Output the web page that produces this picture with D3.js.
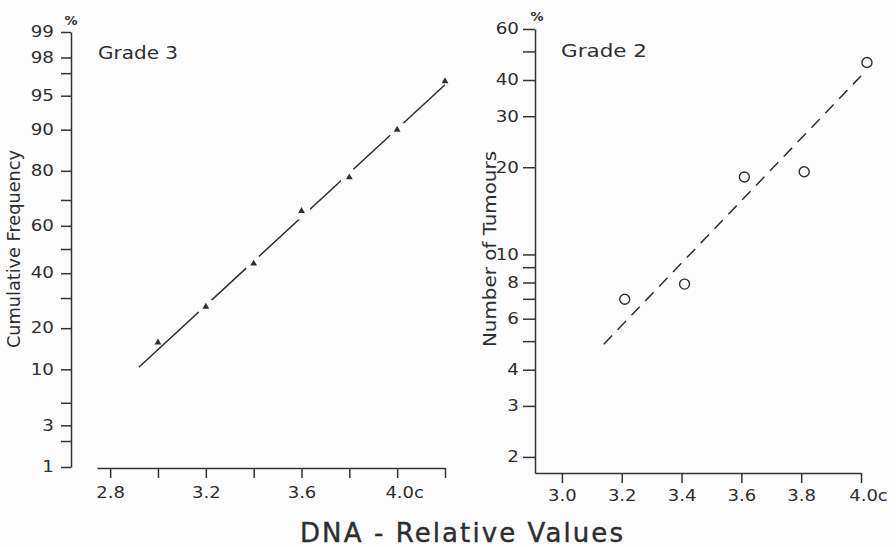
<!DOCTYPE html>
<html>
<head>
<meta charset="utf-8">
<script src="https://cdn.jsdelivr.net/npm/d3@7"></script>
<style>
  body { margin: 0; background: #fcfcfc; }
  svg { display: block; background: #fcfcfc; }
  text { font-family: "DejaVu Sans", sans-serif; fill: #2e2e2e; }
  .axis path, .axis line { stroke: #333; stroke-width: 1.5; }
  .axis text { font-size: 15px; fill: #2e2e2e; font-family: "DejaVu Sans", sans-serif; }
</style>
</head>
<body>
<svg width="896" height="547"></svg>
<script>
"use strict";

// Grade 3 (probability paper, left panel)
const grade3X = [3.0, 3.2, 3.4, 3.6, 3.8, 4.0, 4.2];
const grade3Y = [16, 27, 44, 66, 78, 90, 96.4];
const grade3FitX = [2.92, 4.2];
const grade3FitY = [10.4, 96.1];

// Grade 2 (log scale, right panel)
const grade2X = [3.21, 3.41, 3.61, 3.81, 4.02];
const grade2Y = [7.0, 7.9, 18.5, 19.3, 46];
const grade2FitX = [3.14, 4.0];
const grade2FitY = [4.9, 41.3];

// tick values / labels
const probMajor = [1, 3, 10, 20, 40, 60, 80, 90, 95, 98, 99];
const probMinor = [2, 5, 30, 50, 70, 97];
const leftXTicks = [2.8, 3.0, 3.2, 3.4, 3.6, 3.8, 4.0, 4.2];
const leftXLabels = ["2.8", "", "3.2", "", "3.6", "", "4.0c", ""];
const countMajor = [2, 3, 4, 6, 8, 10, 20, 30, 40, 60];
const countMinor = [5, 7, 9, 50];
const rightXTicks = [3.0, 3.2, 3.4, 3.6, 3.8, 4.0];
const rightXLabels = ["3.0", "3.2", "3.4", "3.6", "3.8", "4.0c"];

const svg = d3.select("svg");
const ink = "#2e2e2e";
const bg = "#fcfcfc";

// the scanned lettering is a wide face: stretch glyphs sideways
const stretch = (sel, k) =>
  sel.each(function() {
    const w = this.getComputedTextLength();
    if (w > 0) {
      d3.select(this)
        .attr("textLength", w * k)
        .attr("lengthAdjust", "spacingAndGlyphs");
    }
  });

// inverse normal cdf (Acklam)
const probit = p => {
  const a = [-3.969683028665376e1, 2.209460984245205e2, -2.759285104469687e2, 1.38357751867269e2, -3.066479806614716e1, 2.506628277459239];
  const b = [-5.447609879822406e1, 1.615858368580409e2, -1.556989798598866e2, 6.680131188771972e1, -1.328068155288572e1];
  const c = [-7.784894002430293e-3, -3.223964580411365e-1, -2.400758277161838, -2.549732539343734, 4.374664141464968, 2.938163982698783];
  const d = [7.784695709041462e-3, 3.224671290700398e-1, 2.445134137142996, 3.754408661907416];
  const pl = 0.02425;
  let q, r;
  if (p < pl) {
    q = Math.sqrt(-2 * Math.log(p));
    return (((((c[0] * q + c[1]) * q + c[2]) * q + c[3]) * q + c[4]) * q + c[5]) / ((((d[0] * q + d[1]) * q + d[2]) * q + d[3]) * q + 1);
  }
  if (p > 1 - pl) {
    q = Math.sqrt(-2 * Math.log(1 - p));
    return -(((((c[0] * q + c[1]) * q + c[2]) * q + c[3]) * q + c[4]) * q + c[5]) / ((((d[0] * q + d[1]) * q + d[2]) * q + d[3]) * q + 1);
  }
  q = p - 0.5;
  r = q * q;
  return (((((a[0] * r + a[1]) * r + a[2]) * r + a[3]) * r + a[4]) * r + a[5]) * q / (((((b[0] * r + b[1]) * r + b[2]) * r + b[3]) * r + b[4]) * r + 1);
};

// probability scale usable by d3.axis
const probScale = (lo, hi, range) => {
  const lin = d3.scaleLinear().domain([probit(lo / 100), probit(hi / 100)]).range(range);
  const s = p => lin(probit(p / 100));
  s.copy = () => s;
  s.range = () => lin.range();
  s.domain = () => [lo, hi];
  return s;
};

/* ---------- left panel: Grade 3 ---------- */
const yL = probScale(1, 99, [467, 32]);
const xL = d3.scaleLinear().domain([2.745, 4.2]).range([97, 445]);

const yAxisL = svg.append("g")
  .attr("class", "axis")
  .attr("transform", "translate(71,0)")
  .call(d3.axisLeft(yL).tickValues(probMajor).tickSize(10).tickSizeOuter(0).tickPadding(7).tickFormat(d3.format("d")));

stretch(yAxisL.selectAll("text"), 1.22);

yAxisL.selectAll(".minor")
  .data(probMinor)
  .enter()
  .append("line")
  .attr("class", "minor")
  .attr("x1", -10)
  .attr("x2", 0)
  .attr("y1", d => yL(d))
  .attr("y2", d => yL(d));

const xAxisL = svg.append("g")
  .attr("class", "axis")
  .attr("transform", "translate(0,468)")
  .call(d3.axisBottom(xL).tickValues(leftXTicks).tickSize(10).tickSizeOuter(0).tickPadding(9)
    .tickFormat((d, i) => leftXLabels[i]));

stretch(xAxisL.selectAll("text"), 1.2);
xAxisL.selectAll("text")
  .attr("dx", (d, i) => (leftXLabels[i] === "4.0c" ? 7 : 0));

svg.append("text")
  .attr("x", 71)
  .attr("y", 25)
  .attr("text-anchor", "middle")
  .style("font-size", "13px")
  .style("font-weight", "bold")
  .text("%");

svg.append("text")
  .attr("x", 98)
  .attr("y", 59)
  .style("font-size", "17px")
  .attr("textLength", 80)
  .attr("lengthAdjust", "spacingAndGlyphs")
  .text("Grade 3");

svg.append("text")
  .attr("transform", "rotate(-90)")
  .attr("x", -249)
  .attr("y", 20)
  .attr("text-anchor", "middle")
  .style("font-size", "17px")
  .attr("textLength", 198)
  .attr("lengthAdjust", "spacingAndGlyphs")
  .text("Cumulative Frequency");

const fitL = d3.line()
  .x(d => xL(d[0]))
  .y(d => yL(d[1]));

svg.append("path")
  .datum(d3.zip(grade3FitX, grade3FitY))
  .attr("d", fitL)
  .attr("fill", "none")
  .attr("stroke", ink)
  .attr("stroke-width", 1.5);

const pts3 = d3.zip(grade3X, grade3Y);

// small breaks in the fitted line at each point
svg.selectAll(".gap3")
  .data(pts3.slice(1, -1))
  .enter()
  .append("circle")
  .attr("class", "gap3")
  .attr("cx", d => xL(d[0]))
  .attr("cy", d => yL(d[1]))
  .attr("r", 9)
  .attr("fill", bg);

svg.selectAll(".tri")
  .data(pts3)
  .enter()
  .append("path")
  .attr("class", "tri")
  .attr("d", d3.symbol().type(d3.symbolTriangle).size(20))
  .attr("transform", d => `translate(${xL(d[0])},${yL(d[1])})`)
  .attr("fill", ink);

/* ---------- right panel: Grade 2 ---------- */
const yR = d3.scaleLog().domain([1.76, 60]).range([473, 29]);
const xR = d3.scaleLinear().domain([2.91, 4.0]).range([535, 861]);

const yAxisR = svg.append("g")
  .attr("class", "axis")
  .attr("transform", "translate(535,0)")
  .call(d3.axisLeft(yR).tickValues(countMajor).tickSize(12).tickSizeOuter(0).tickPadding(4).tickFormat(d3.format("d")));

stretch(yAxisR.selectAll("text"), 1.22);

yAxisR.selectAll(".minor")
  .data(countMinor)
  .enter()
  .append("line")
  .attr("class", "minor")
  .attr("x1", -12)
  .attr("x2", 0)
  .attr("y1", d => yR(d))
  .attr("y2", d => yR(d));

const xAxisR = svg.append("g")
  .attr("class", "axis")
  .attr("transform", "translate(0,473)")
  .call(d3.axisBottom(xR).tickValues(rightXTicks).tickSize(10).tickSizeOuter(0).tickPadding(7)
    .tickFormat((d, i) => rightXLabels[i]));

stretch(xAxisR.selectAll("text"), 1.2);
xAxisR.selectAll("text")
  .attr("dx", (d, i) => (rightXLabels[i] === "4.0c" ? 7 : 0));

svg.append("text")
  .attr("x", 537)
  .attr("y", 21)
  .attr("text-anchor", "middle")
  .style("font-size", "13px")
  .style("font-weight", "bold")
  .text("%");

svg.append("text")
  .attr("x", 561)
  .attr("y", 57)
  .style("font-size", "17px")
  .attr("textLength", 86)
  .attr("lengthAdjust", "spacingAndGlyphs")
  .text("Grade 2");

svg.append("text")
  .attr("transform", "rotate(-90)")
  .attr("x", -249)
  .attr("y", 496)
  .attr("text-anchor", "middle")
  .style("font-size", "17px")
  .attr("textLength", 196)
  .attr("lengthAdjust", "spacingAndGlyphs")
  .text("Number of Tumours");

const fitR = d3.line()
  .x(d => xR(d[0]))
  .y(d => yR(d[1]));

svg.append("path")
  .datum(d3.zip(grade2FitX, grade2FitY))
  .attr("d", fitR)
  .attr("fill", "none")
  .attr("stroke", ink)
  .attr("stroke-width", 1.5)
  .attr("stroke-dasharray", "12,8");

svg.selectAll(".ring")
  .data(d3.zip(grade2X, grade2Y))
  .enter()
  .append("circle")
  .attr("class", "ring")
  .attr("cx", d => xR(d[0]))
  .attr("cy", d => yR(d[1]))
  .attr("r", 5)
  .attr("fill", "none")
  .attr("stroke", ink)
  .attr("stroke-width", 1.4);

/* ---------- shared x title ---------- */
svg.append("text")
  .attr("x", 300)
  .attr("y", 542)
  .style("font-size", "26px")
  .style("stroke", ink)
  .style("stroke-width", 0.4)
  .attr("textLength", 323)
  .attr("lengthAdjust", "spacing")
  .text("DNA - Relative Values");
</script>
</body>
</html>
